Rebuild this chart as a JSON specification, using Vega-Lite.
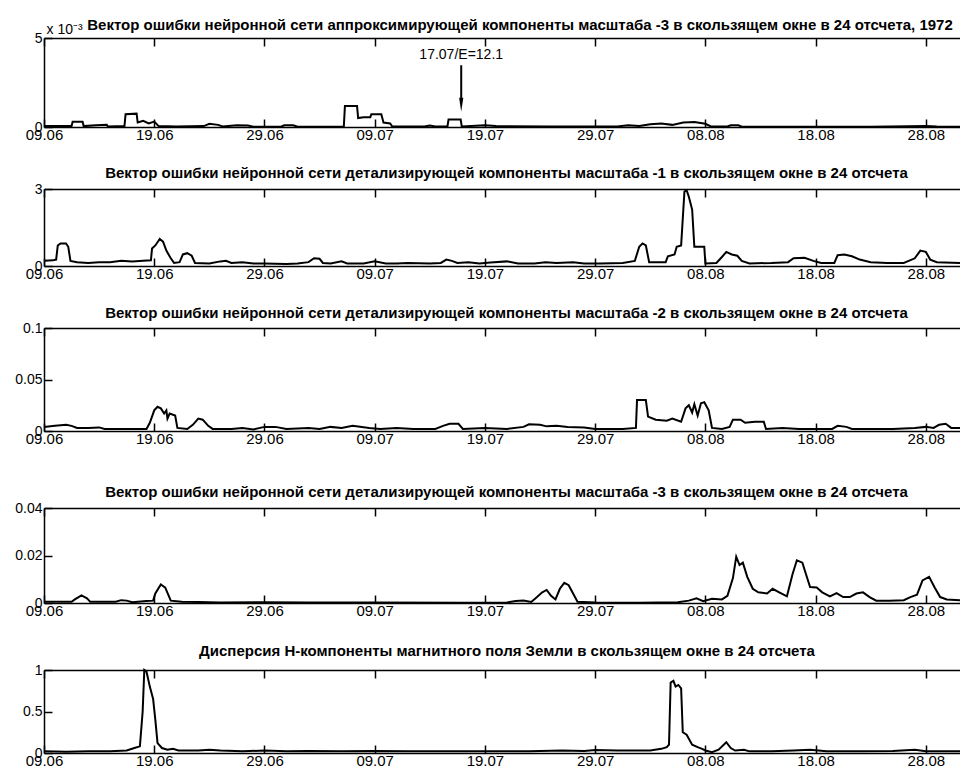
{
  "$schema": "https://vega.github.io/schema/vega-lite/v6.json",
  "background": "white",
  "padding": {"left": 14, "top": 18, "right": 0, "bottom": 0},
  "spacing": 0,
  "config": {
    "font": "Liberation Sans",
    "view": {"stroke": null},
    "axis": {"domainColor": "black", "domainWidth": 1.5, "ticks": true, "tickSize": -8, "tickColor": "black", "tickWidth": 1.5, "labelColor": "black", "labelFont": "Liberation Sans", "labelFontSize": 14, "grid": false, "labelFlush": false, "labelOverlap": false, "labelBound": false},
    "axisX": {"labelPadding": 8, "labelFontSize": 15},
    "axisY": {"labelPadding": 10},
    "title": {"font": "Liberation Sans", "fontSize": 15, "fontWeight": "bold", "color": "black", "frame": "group", "baseline": "alphabetic"},
    "line": {"color": "black", "strokeWidth": 2}
  },
  "datasets": {
    "p1": [
      {"day": 0, "v": 0.00005}, {"day": 1.5, "v": 0.00005}, {"day": 2.5, "v": 0.00005}, {"day": 2.6, "v": 0.0003}, {"day": 3.5, "v": 0.0003}, {"day": 3.6, "v": 0.00005},
      {"day": 4.7, "v": 0.0001}, {"day": 5.7, "v": 0.00012}, {"day": 5.8, "v": 0.00003}, {"day": 7.3, "v": 0.00005}, {"day": 7.4, "v": 0.00072}, {"day": 8.4, "v": 0.00075},
      {"day": 8.5, "v": 0.00025}, {"day": 9.0, "v": 0.00035}, {"day": 9.5, "v": 0.0002}, {"day": 10.0, "v": 0.0003}, {"day": 10.4, "v": 0.00005}, {"day": 12, "v": 0.00003},
      {"day": 14.5, "v": 0.00005}, {"day": 15.0, "v": 0.00018}, {"day": 15.8, "v": 0.00012}, {"day": 16.2, "v": 0.00003}, {"day": 17.5, "v": 0.0001}, {"day": 18.5, "v": 0.00008},
      {"day": 19.0, "v": 0.00002}, {"day": 21.5, "v": 0.00002}, {"day": 21.8, "v": 0.0001}, {"day": 22.6, "v": 0.0001}, {"day": 23.0, "v": 0.00002}, {"day": 27.2, "v": 0.00003},
      {"day": 27.3, "v": 0.00118}, {"day": 28.4, "v": 0.00118}, {"day": 28.5, "v": 0.0005}, {"day": 29.0, "v": 0.00055}, {"day": 29.6, "v": 0.00055}, {"day": 29.7, "v": 0.00072},
      {"day": 30.6, "v": 0.00072}, {"day": 30.8, "v": 0.00025}, {"day": 31.4, "v": 0.0002}, {"day": 31.6, "v": 0.00003}, {"day": 34.5, "v": 0.00003}, {"day": 35.0, "v": 0.00008},
      {"day": 35.5, "v": 0.00003}, {"day": 36.6, "v": 0.00003}, {"day": 36.7, "v": 0.00042}, {"day": 37.8, "v": 0.00042}, {"day": 37.9, "v": 0.00003}, {"day": 40, "v": 0.0001},
      {"day": 41, "v": 0.00005}, {"day": 46, "v": 0.00003}, {"day": 52, "v": 0.00003}, {"day": 53, "v": 0.0001}, {"day": 54, "v": 0.00005}, {"day": 55, "v": 0.00015},
      {"day": 56, "v": 0.0002}, {"day": 57, "v": 0.00012}, {"day": 58, "v": 0.00025}, {"day": 59, "v": 0.00028}, {"day": 60, "v": 0.00018}, {"day": 60.5, "v": 0.00003},
      {"day": 62, "v": 0.00003}, {"day": 62.3, "v": 0.0001}, {"day": 63, "v": 0.0001}, {"day": 63.3, "v": 0.00002}, {"day": 68, "v": 0.00002}, {"day": 75, "v": 0.00002},
      {"day": 80, "v": 0.00005}, {"day": 81, "v": 0.00003}, {"day": 83.1, "v": 0.00002}
    ],
    "ann": [
      {"day": 37.85, "top": 0.00347, "bottom": 0.0015, "head": 0.00125, "labelY": 0.0038, "label": "17.07/E=12.1"}
    ],
    "p2": [
      {"day": 0, "v": 0.2}, {"day": 0.8, "v": 0.22}, {"day": 1.1, "v": 0.25}, {"day": 1.25, "v": 0.8}, {"day": 1.5, "v": 0.88}, {"day": 2.0, "v": 0.88}, {"day": 2.2, "v": 0.75},
      {"day": 2.4, "v": 0.2}, {"day": 3, "v": 0.15}, {"day": 4, "v": 0.12}, {"day": 5, "v": 0.15}, {"day": 6, "v": 0.15}, {"day": 7, "v": 0.2}, {"day": 8, "v": 0.18},
      {"day": 9, "v": 0.2}, {"day": 9.7, "v": 0.22}, {"day": 9.8, "v": 0.68}, {"day": 10.1, "v": 0.8}, {"day": 10.5, "v": 1.05}, {"day": 10.8, "v": 0.95}, {"day": 11.1, "v": 0.6},
      {"day": 11.5, "v": 0.3}, {"day": 11.8, "v": 0.12}, {"day": 12.3, "v": 0.15}, {"day": 12.6, "v": 0.45}, {"day": 13.0, "v": 0.5}, {"day": 13.4, "v": 0.4}, {"day": 13.7, "v": 0.12},
      {"day": 15, "v": 0.1}, {"day": 16, "v": 0.18}, {"day": 16.5, "v": 0.2}, {"day": 17, "v": 0.12}, {"day": 18, "v": 0.15}, {"day": 19, "v": 0.1}, {"day": 20, "v": 0.1},
      {"day": 22, "v": 0.08}, {"day": 23, "v": 0.1}, {"day": 24, "v": 0.15}, {"day": 24.5, "v": 0.3}, {"day": 25, "v": 0.28}, {"day": 25.3, "v": 0.12}, {"day": 26, "v": 0.1},
      {"day": 27, "v": 0.18}, {"day": 27.5, "v": 0.1}, {"day": 29, "v": 0.1}, {"day": 30, "v": 0.18}, {"day": 31, "v": 0.1}, {"day": 32, "v": 0.1}, {"day": 33, "v": 0.12},
      {"day": 35, "v": 0.1}, {"day": 36, "v": 0.12}, {"day": 36.5, "v": 0.25}, {"day": 37, "v": 0.2}, {"day": 37.5, "v": 0.12}, {"day": 38.5, "v": 0.15}, {"day": 39.5, "v": 0.1},
      {"day": 40.5, "v": 0.14}, {"day": 42, "v": 0.18}, {"day": 43, "v": 0.1}, {"day": 44.5, "v": 0.1}, {"day": 45.5, "v": 0.15}, {"day": 46.5, "v": 0.12}, {"day": 48, "v": 0.15},
      {"day": 49, "v": 0.1}, {"day": 50.5, "v": 0.1}, {"day": 52.5, "v": 0.12}, {"day": 53.6, "v": 0.2}, {"day": 54.0, "v": 0.75}, {"day": 54.3, "v": 0.88}, {"day": 54.6, "v": 0.8},
      {"day": 54.9, "v": 0.15}, {"day": 56.4, "v": 0.15}, {"day": 56.6, "v": 0.38}, {"day": 57.2, "v": 0.45}, {"day": 57.4, "v": 0.75}, {"day": 57.8, "v": 0.8}, {"day": 58.1, "v": 2.9},
      {"day": 58.3, "v": 2.95}, {"day": 58.5, "v": 2.7}, {"day": 58.8, "v": 2.2}, {"day": 59.0, "v": 0.75}, {"day": 59.9, "v": 0.75}, {"day": 60.0, "v": 0.1}, {"day": 61, "v": 0.12},
      {"day": 61.5, "v": 0.35}, {"day": 61.9, "v": 0.55}, {"day": 62.4, "v": 0.45}, {"day": 62.9, "v": 0.4}, {"day": 63.3, "v": 0.2}, {"day": 64, "v": 0.1}, {"day": 66, "v": 0.12},
      {"day": 67.5, "v": 0.15}, {"day": 68, "v": 0.3}, {"day": 69, "v": 0.32}, {"day": 69.8, "v": 0.2}, {"day": 70.5, "v": 0.12}, {"day": 71.7, "v": 0.12}, {"day": 72, "v": 0.42},
      {"day": 72.6, "v": 0.45}, {"day": 73.3, "v": 0.38}, {"day": 74, "v": 0.25}, {"day": 75, "v": 0.15}, {"day": 76.5, "v": 0.12}, {"day": 78, "v": 0.12}, {"day": 79, "v": 0.3},
      {"day": 79.5, "v": 0.6}, {"day": 80, "v": 0.55}, {"day": 80.4, "v": 0.25}, {"day": 81, "v": 0.15}, {"day": 83.1, "v": 0.12}
    ],
    "p3": [
      {"day": 0, "v": 0.004}, {"day": 1, "v": 0.005}, {"day": 2, "v": 0.006}, {"day": 2.5, "v": 0.005}, {"day": 3, "v": 0.003}, {"day": 4, "v": 0.003}, {"day": 5, "v": 0.0035},
      {"day": 5.5, "v": 0.002}, {"day": 7, "v": 0.002}, {"day": 8, "v": 0.002}, {"day": 9.3, "v": 0.002}, {"day": 9.6, "v": 0.008}, {"day": 10.0, "v": 0.02}, {"day": 10.3, "v": 0.0235},
      {"day": 10.6, "v": 0.022}, {"day": 10.9, "v": 0.017}, {"day": 11.1, "v": 0.02}, {"day": 11.2, "v": 0.012}, {"day": 11.4, "v": 0.017}, {"day": 11.9, "v": 0.015}, {"day": 12.1, "v": 0.003},
      {"day": 13.0, "v": 0.002}, {"day": 13.5, "v": 0.006}, {"day": 14.0, "v": 0.012}, {"day": 14.4, "v": 0.011}, {"day": 14.9, "v": 0.005}, {"day": 15.3, "v": 0.002}, {"day": 17, "v": 0.002},
      {"day": 18, "v": 0.003}, {"day": 19, "v": 0.0015}, {"day": 20, "v": 0.004}, {"day": 21, "v": 0.004}, {"day": 22, "v": 0.002}, {"day": 24, "v": 0.003}, {"day": 25, "v": 0.002},
      {"day": 26, "v": 0.004}, {"day": 27, "v": 0.003}, {"day": 28, "v": 0.005}, {"day": 29.5, "v": 0.003}, {"day": 30.5, "v": 0.002}, {"day": 32, "v": 0.003}, {"day": 33.5, "v": 0.002},
      {"day": 35.5, "v": 0.002}, {"day": 36.2, "v": 0.005}, {"day": 36.8, "v": 0.007}, {"day": 37.6, "v": 0.007}, {"day": 38, "v": 0.002}, {"day": 40, "v": 0.003}, {"day": 42, "v": 0.002},
      {"day": 43.5, "v": 0.004}, {"day": 44, "v": 0.0065}, {"day": 45, "v": 0.006}, {"day": 45.6, "v": 0.0045}, {"day": 46.5, "v": 0.005}, {"day": 47.5, "v": 0.004}, {"day": 49, "v": 0.0035},
      {"day": 50, "v": 0.002}, {"day": 52.5, "v": 0.002}, {"day": 53.7, "v": 0.003}, {"day": 53.8, "v": 0.03}, {"day": 54.6, "v": 0.03}, {"day": 54.8, "v": 0.014}, {"day": 55.5, "v": 0.011},
      {"day": 56.5, "v": 0.01}, {"day": 57, "v": 0.012}, {"day": 57.8, "v": 0.009}, {"day": 58.2, "v": 0.022}, {"day": 58.5, "v": 0.025}, {"day": 58.8, "v": 0.018}, {"day": 59, "v": 0.026},
      {"day": 59.3, "v": 0.015}, {"day": 59.6, "v": 0.027}, {"day": 59.9, "v": 0.028}, {"day": 60.3, "v": 0.02}, {"day": 60.6, "v": 0.003}, {"day": 61.5, "v": 0.002}, {"day": 62.2, "v": 0.004},
      {"day": 62.5, "v": 0.011}, {"day": 63.2, "v": 0.011}, {"day": 63.6, "v": 0.008}, {"day": 64.5, "v": 0.009}, {"day": 65.3, "v": 0.009}, {"day": 65.5, "v": 0.002}, {"day": 67, "v": 0.003},
      {"day": 68.5, "v": 0.002}, {"day": 70, "v": 0.002}, {"day": 71.5, "v": 0.002}, {"day": 72, "v": 0.005}, {"day": 72.8, "v": 0.004}, {"day": 73.3, "v": 0.002}, {"day": 75, "v": 0.002},
      {"day": 77, "v": 0.002}, {"day": 79, "v": 0.003}, {"day": 80, "v": 0.004}, {"day": 80.7, "v": 0.003}, {"day": 81.2, "v": 0.006}, {"day": 81.8, "v": 0.007}, {"day": 82.3, "v": 0.003},
      {"day": 83.1, "v": 0.003}
    ],
    "p4": [
      {"day": 0, "v": 0.0005}, {"day": 2.5, "v": 0.0005}, {"day": 2.8, "v": 0.0015}, {"day": 3.4, "v": 0.0032}, {"day": 3.9, "v": 0.002}, {"day": 4.2, "v": 0.0005}, {"day": 6.5, "v": 0.0005},
      {"day": 7, "v": 0.0012}, {"day": 7.5, "v": 0.001}, {"day": 8, "v": 0.0003}, {"day": 9.3, "v": 0.0008}, {"day": 9.9, "v": 0.001}, {"day": 10.1, "v": 0.004}, {"day": 10.6, "v": 0.0078},
      {"day": 11.0, "v": 0.0065}, {"day": 11.5, "v": 0.001}, {"day": 12.5, "v": 0.0005}, {"day": 14, "v": 0.0004}, {"day": 16, "v": 0.0002}, {"day": 20, "v": 0.0003}, {"day": 24, "v": 0.0002},
      {"day": 30, "v": 0.0002}, {"day": 38, "v": 0.0001}, {"day": 42, "v": 0.0002}, {"day": 42.8, "v": 0.0008}, {"day": 43.5, "v": 0.001}, {"day": 44.2, "v": 0.0004}, {"day": 44.6, "v": 0.002},
      {"day": 45.2, "v": 0.0045}, {"day": 45.6, "v": 0.0055}, {"day": 46.0, "v": 0.003}, {"day": 46.4, "v": 0.0015}, {"day": 46.8, "v": 0.006}, {"day": 47.2, "v": 0.0085}, {"day": 47.6, "v": 0.0075},
      {"day": 48.0, "v": 0.004}, {"day": 48.4, "v": 0.0005}, {"day": 50, "v": 0.0002}, {"day": 54, "v": 0.0001}, {"day": 57.5, "v": 0.0003}, {"day": 58.5, "v": 0.001}, {"day": 59.2, "v": 0.002},
      {"day": 59.8, "v": 0.0008}, {"day": 60.6, "v": 0.0018}, {"day": 61.5, "v": 0.0015}, {"day": 62.0, "v": 0.003}, {"day": 62.5, "v": 0.0105}, {"day": 62.8, "v": 0.0195}, {"day": 63.1, "v": 0.016},
      {"day": 63.4, "v": 0.017}, {"day": 63.8, "v": 0.011}, {"day": 64.3, "v": 0.006}, {"day": 64.8, "v": 0.0045}, {"day": 65.6, "v": 0.004}, {"day": 66.1, "v": 0.006}, {"day": 66.7, "v": 0.0045},
      {"day": 67.4, "v": 0.0028}, {"day": 67.9, "v": 0.012}, {"day": 68.3, "v": 0.018}, {"day": 68.8, "v": 0.017}, {"day": 69.1, "v": 0.0125}, {"day": 69.5, "v": 0.0067}, {"day": 70.1, "v": 0.0065},
      {"day": 70.6, "v": 0.0045}, {"day": 71.3, "v": 0.0028}, {"day": 71.9, "v": 0.0042}, {"day": 72.5, "v": 0.0025}, {"day": 73.1, "v": 0.0025}, {"day": 73.7, "v": 0.004}, {"day": 74.3, "v": 0.0045},
      {"day": 74.9, "v": 0.0025}, {"day": 75.5, "v": 0.001}, {"day": 76.7, "v": 0.001}, {"day": 78, "v": 0.0012}, {"day": 78.6, "v": 0.0025}, {"day": 79.2, "v": 0.0035}, {"day": 79.7, "v": 0.0095},
      {"day": 80.3, "v": 0.011}, {"day": 80.8, "v": 0.0065}, {"day": 81.3, "v": 0.0025}, {"day": 81.9, "v": 0.0015}, {"day": 83.1, "v": 0.0012}
    ],
    "p5": [
      {"day": 0, "v": 0.02}, {"day": 2, "v": 0.015}, {"day": 4, "v": 0.02}, {"day": 6, "v": 0.02}, {"day": 7.5, "v": 0.03}, {"day": 8.2, "v": 0.06}, {"day": 8.7, "v": 0.08},
      {"day": 8.95, "v": 0.5}, {"day": 9.1, "v": 1.0}, {"day": 9.3, "v": 0.98}, {"day": 9.6, "v": 0.8}, {"day": 9.9, "v": 0.65}, {"day": 10.1, "v": 0.4}, {"day": 10.3, "v": 0.12},
      {"day": 10.7, "v": 0.06}, {"day": 11.2, "v": 0.04}, {"day": 11.7, "v": 0.05}, {"day": 12.2, "v": 0.03}, {"day": 14, "v": 0.03}, {"day": 15, "v": 0.04}, {"day": 16, "v": 0.03},
      {"day": 18, "v": 0.02}, {"day": 20, "v": 0.03}, {"day": 22, "v": 0.02}, {"day": 24, "v": 0.025}, {"day": 27, "v": 0.02}, {"day": 30, "v": 0.025}, {"day": 33, "v": 0.02},
      {"day": 36, "v": 0.02}, {"day": 40, "v": 0.02}, {"day": 44, "v": 0.02}, {"day": 47, "v": 0.03}, {"day": 49, "v": 0.025}, {"day": 50, "v": 0.035}, {"day": 52, "v": 0.03},
      {"day": 55, "v": 0.03}, {"day": 56.0, "v": 0.05}, {"day": 56.5, "v": 0.07}, {"day": 56.7, "v": 0.1}, {"day": 56.85, "v": 0.85}, {"day": 57.1, "v": 0.87}, {"day": 57.3, "v": 0.8},
      {"day": 57.55, "v": 0.82}, {"day": 57.8, "v": 0.78}, {"day": 57.95, "v": 0.25}, {"day": 58.3, "v": 0.22}, {"day": 58.8, "v": 0.1}, {"day": 59.3, "v": 0.07}, {"day": 59.7, "v": 0.05},
      {"day": 60.0, "v": 0.03}, {"day": 60.6, "v": 0.01}, {"day": 61.2, "v": 0.04}, {"day": 61.9, "v": 0.13}, {"day": 62.3, "v": 0.06}, {"day": 62.7, "v": 0.03}, {"day": 63.5, "v": 0.04},
      {"day": 64, "v": 0.02}, {"day": 66, "v": 0.02}, {"day": 68, "v": 0.03}, {"day": 69.5, "v": 0.04}, {"day": 71, "v": 0.02}, {"day": 74, "v": 0.02}, {"day": 77, "v": 0.025},
      {"day": 79, "v": 0.04}, {"day": 80, "v": 0.02}, {"day": 83.1, "v": 0.02}
    ]
  },
  "vconcat": [
    {
      "width": 916, "height": 89,
      "title": {"text": "Вектор ошибки нейронной сети аппроксимирующей компоненты масштаба -3 в скользящем окне в 24 отсчета, 1972", "offset": -11, "dx": 18},
      "layer": [
        {"data": {"name": "p1"}, "mark": "line",
         "encoding": {
           "x": {"field": "day", "type": "quantitative", "scale": {"domain": [0, 83.1], "nice": false, "zero": false},
                 "axis": {"orient": "bottom", "title": null, "tickSize": -8, "labelPadding": 8, "values": [0, 10, 20, 30, 40, 50, 60, 70, 80], "labelExpr": "['09.06','19.06','29.06','09.07','19.07','29.07','08.08','18.08','28.08'][round(datum.value/10)]", "minExtent": 39}},
           "y": {"field": "v", "type": "quantitative", "scale": {"domain": [0, 0.005], "nice": false},
                 "axis": {"title": "x 10⁻³", "tickSize": -8, "labelPadding": 10, "titleAngle": 0, "titleX": 2, "titleY": -5, "titleAlign": "left", "titleBaseline": "alphabetic", "titleFontSize": 14, "titleFontWeight": "normal", "titleColor": "black", "values": [0, 0.005], "labelExpr": "format(datum.value*1000, '~g')"}}
         }},
        {"data": {"name": "p1"}, "mark": {"type": "line", "opacity": 0},
         "encoding": {
           "x": {"field": "day", "type": "quantitative", "axis": {"orient": "top", "title": null, "tickSize": -8, "values": [0, 10, 20, 30, 40, 50, 60, 70, 80], "labels": false}},
           "y": {"field": "v", "type": "quantitative"}
         }},
        {"data": {"name": "ann"}, "mark": {"type": "rule", "color": "black", "strokeWidth": 2},
         "encoding": {"x": {"field": "day", "type": "quantitative", "axis": null}, "y": {"field": "top", "type": "quantitative"}, "y2": {"field": "bottom"}}},
        {"data": {"name": "ann"}, "mark": {"type": "point", "shape": "M-0.3,-1L0.3,-1L0,1Z", "filled": true, "color": "black", "opacity": 1, "size": 196},
         "encoding": {"x": {"field": "day", "type": "quantitative", "axis": null}, "y": {"field": "head", "type": "quantitative"}}},
        {"data": {"name": "ann"}, "mark": {"type": "text", "color": "black", "fontSize": 14, "align": "center", "baseline": "alphabetic", "font": "Liberation Sans"},
         "encoding": {"x": {"field": "day", "type": "quantitative", "axis": null}, "y": {"field": "labelY", "type": "quantitative"}, "text": {"field": "label"}}}
      ],
      "resolve": {"axis": {"x": "independent"}}
    },
    {
      "width": 916, "height": 77,
      "title": {"text": "Вектор ошибки нейронной сети детализирующей компоненты масштаба -1 в скользящем окне в 24 отсчета", "offset": 1, "dx": 4.5},
      "layer": [
        {"data": {"name": "p2"}, "mark": "line",
         "encoding": {
           "x": {"field": "day", "type": "quantitative", "scale": {"domain": [0, 83.1], "nice": false, "zero": false},
                 "axis": {"orient": "bottom", "title": null, "tickSize": -8, "labelPadding": 8, "values": [0, 10, 20, 30, 40, 50, 60, 70, 80], "labelExpr": "['09.06','19.06','29.06','09.07','19.07','29.07','08.08','18.08','28.08'][round(datum.value/10)]", "minExtent": 40}},
           "y": {"field": "v", "type": "quantitative", "scale": {"domain": [0, 3], "nice": false},
                 "axis": {"title": null, "tickSize": -8, "labelPadding": 10, "values": [0, 1, 2, 3], "format": "~g"}}
         }},
        {"data": {"name": "p2"}, "mark": {"type": "line", "opacity": 0},
         "encoding": {
           "x": {"field": "day", "type": "quantitative", "axis": {"orient": "top", "title": null, "tickSize": -8, "values": [0, 10, 20, 30, 40, 50, 60, 70, 80], "labels": false}},
           "y": {"field": "v", "type": "quantitative"}
         }}
      ],
      "resolve": {"axis": {"x": "independent"}}
    },
    {
      "width": 916, "height": 103,
      "title": {"text": "Вектор ошибки нейронной сети детализирующей компоненты масштаба -2 в скользящем окне в 24 отсчета", "offset": 0, "dx": 4.5},
      "layer": [
        {"data": {"name": "p3"}, "mark": "line",
         "encoding": {
           "x": {"field": "day", "type": "quantitative", "scale": {"domain": [0, 83.1], "nice": false, "zero": false},
                 "axis": {"orient": "bottom", "title": null, "tickSize": -8, "labelPadding": 8, "values": [0, 10, 20, 30, 40, 50, 60, 70, 80], "labelExpr": "['09.06','19.06','29.06','09.07','19.07','29.07','08.08','18.08','28.08'][round(datum.value/10)]", "minExtent": 54}},
           "y": {"field": "v", "type": "quantitative", "scale": {"domain": [0, 0.1], "nice": false},
                 "axis": {"title": null, "tickSize": -8, "labelPadding": 10, "values": [0, 0.05, 0.1], "format": "~g"}}
         }},
        {"data": {"name": "p3"}, "mark": {"type": "line", "opacity": 0},
         "encoding": {
           "x": {"field": "day", "type": "quantitative", "axis": {"orient": "top", "title": null, "tickSize": -8, "values": [0, 10, 20, 30, 40, 50, 60, 70, 80], "labels": false}},
           "y": {"field": "v", "type": "quantitative"}
         }}
      ],
      "resolve": {"axis": {"x": "independent"}}
    },
    {
      "width": 916, "height": 95,
      "title": {"text": "Вектор ошибки нейронной сети детализирующей компоненты масштаба -3 в скользящем окне в 24 отсчета", "offset": 1, "dx": 4.5},
      "layer": [
        {"data": {"name": "p4"}, "mark": "line",
         "encoding": {
           "x": {"field": "day", "type": "quantitative", "scale": {"domain": [0, 83.1], "nice": false, "zero": false},
                 "axis": {"orient": "bottom", "title": null, "tickSize": -8, "labelPadding": 8, "values": [0, 10, 20, 30, 40, 50, 60, 70, 80], "labelExpr": "['09.06','19.06','29.06','09.07','19.07','29.07','08.08','18.08','28.08'][round(datum.value/10)]", "minExtent": 41}},
           "y": {"field": "v", "type": "quantitative", "scale": {"domain": [0, 0.04], "nice": false},
                 "axis": {"title": null, "tickSize": -8, "labelPadding": 10, "values": [0, 0.02, 0.04], "format": "~g"}}
         }},
        {"data": {"name": "p4"}, "mark": {"type": "line", "opacity": 0},
         "encoding": {
           "x": {"field": "day", "type": "quantitative", "axis": {"orient": "top", "title": null, "tickSize": -8, "values": [0, 10, 20, 30, 40, 50, 60, 70, 80], "labels": false}},
           "y": {"field": "v", "type": "quantitative"}
         }}
      ],
      "resolve": {"axis": {"x": "independent"}}
    },
    {
      "width": 916, "height": 83,
      "title": {"text": "Дисперсия Н-компоненты магнитного поля Земли в скользящем окне в 24 отсчета", "offset": 4, "dx": 5},
      "layer": [
        {"data": {"name": "p5"}, "mark": "line",
         "encoding": {
           "x": {"field": "day", "type": "quantitative", "scale": {"domain": [0, 83.1], "nice": false, "zero": false},
                 "axis": {"orient": "bottom", "title": null, "tickSize": -8, "labelPadding": 8, "values": [0, 10, 20, 30, 40, 50, 60, 70, 80], "labelExpr": "['09.06','19.06','29.06','09.07','19.07','29.07','08.08','18.08','28.08'][round(datum.value/10)]"}},
           "y": {"field": "v", "type": "quantitative", "scale": {"domain": [0, 1], "nice": false},
                 "axis": {"title": null, "tickSize": -8, "labelPadding": 10, "values": [0, 0.5, 1], "format": "~g"}}
         }},
        {"data": {"name": "p5"}, "mark": {"type": "line", "opacity": 0},
         "encoding": {
           "x": {"field": "day", "type": "quantitative", "axis": {"orient": "top", "title": null, "tickSize": -8, "values": [0, 10, 20, 30, 40, 50, 60, 70, 80], "labels": false}},
           "y": {"field": "v", "type": "quantitative"}
         }}
      ],
      "resolve": {"axis": {"x": "independent"}}
    }
  ]
}
